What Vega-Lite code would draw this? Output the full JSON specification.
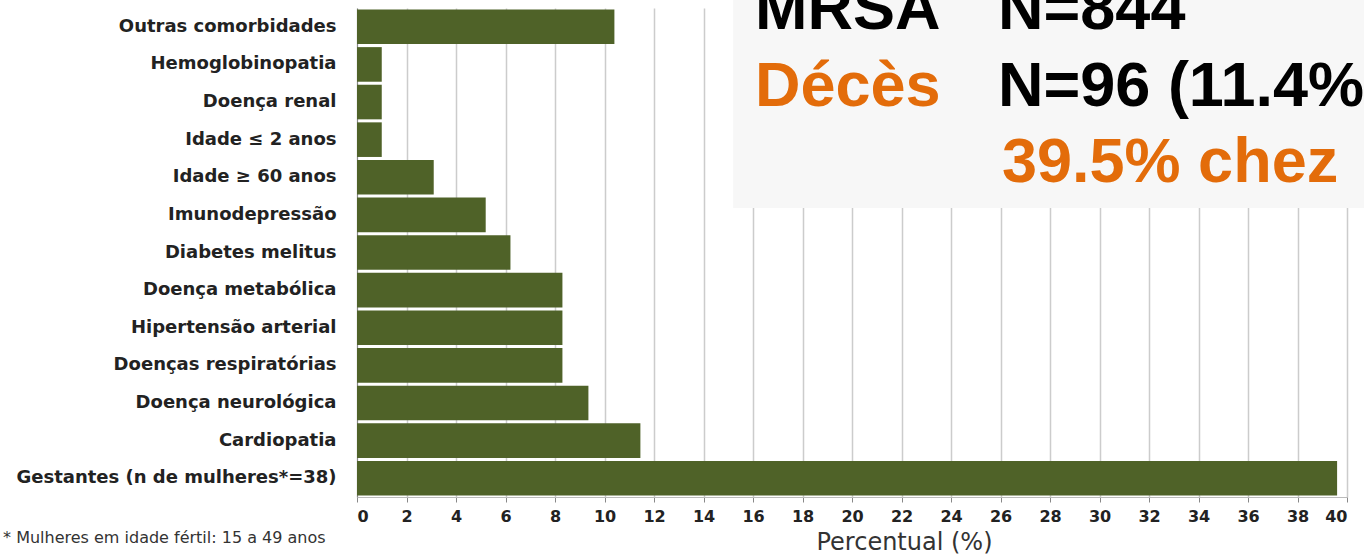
{
  "$schema": "https://vega.github.io/schema/vega-lite/v6.json",
  "width": 990,
  "height": 489,
  "autosize": {"type": "none"},
  "padding": {"left": 357, "top": 8, "right": 17, "bottom": 57},
  "background": "white",
  "config": {"view": {"stroke": null}},
  "datasets": {
    "bars": [
      {"category": "Outras comorbidades", "pct": 10.4},
      {"category": "Hemoglobinopatia", "pct": 1.0},
      {"category": "Doença renal", "pct": 1.0},
      {"category": "Idade ≤ 2 anos", "pct": 1.0},
      {"category": "Idade ≥ 60 anos", "pct": 3.1},
      {"category": "Imunodepressão", "pct": 5.2},
      {"category": "Diabetes melitus", "pct": 6.2},
      {"category": "Doença metabólica", "pct": 8.3},
      {"category": "Hipertensão arterial", "pct": 8.3},
      {"category": "Doenças respiratórias", "pct": 8.3},
      {"category": "Doença neurológica", "pct": 9.35},
      {"category": "Cardiopatia", "pct": 11.45},
      {"category": "Gestantes (n de mulheres*=38)", "pct": 39.6}
    ]
  },
  "layer": [
    {
      "data": {"name": "bars"},
      "mark": {"type": "bar", "color": "#4f6228"},
      "encoding": {
        "y": {
          "field": "category",
          "type": "nominal",
          "sort": null,
          "scale": {"paddingInner": 0.08, "paddingOuter": 0.04},
          "axis": {
            "title": null,
            "ticks": false,
            "domain": true,
            "domainColor": "#888888",
            "labelFont": "DejaVu Sans",
            "labelFontWeight": "bold",
            "labelFontSize": 18,
            "labelColor": "#222222",
            "labelPadding": 21,
            "labelLimit": 400
          }
        },
        "x": {
          "field": "pct",
          "type": "quantitative",
          "scale": {"domain": [0, 40], "nice": false},
          "axis": {
            "values": [0,2,4,6,8,10,12,14,16,18,20,22,24,26,28,30,32,34,36,38,40],
            "grid": true,
            "gridColor": "#cccccc",
            "gridWidth": 1.5,
            "domain": true,
            "domainColor": "#bbbbbb",
            "tickColor": "#888888",
            "tickSize": 5,
            "labelFont": "DejaVu Sans",
            "labelFontWeight": "bold",
            "labelFontSize": 16,
            "labelColor": "#222222",
            "labelPadding": 6,
            "title": "Percentual (%)",
            "titleFont": "DejaVu Sans",
            "titleFontWeight": "normal",
            "titleFontSize": 24,
            "titleColor": "#333333",
            "titleX": 547,
            "titleY": 52,
            "titleAlign": "center",
            "titleBaseline": "alphabetic"
          }
        }
      }
    },
    {
      "layer": [
        {
          "data": {"values": [{"k": 1}]},
          "mark": {"type": "rect", "color": "#f7f7f7"},
          "encoding": {
            "x": {"datum": 15.2, "type": "quantitative"},
            "x2": {"datum": 41},
            "y": {"datum": -0.3, "type": "quantitative", "scale": {"domain": [0, 13], "reverse": true, "nice": false, "zero": false}, "axis": null},
            "y2": {"datum": 5.32}
          }
        },
        {
          "data": {"values": [{"t": "MRSA"}]},
          "mark": {"type": "text", "align": "left", "baseline": "alphabetic", "font": "Liberation Sans", "fontWeight": "bold", "fontSize": 63, "color": "#000000"},
          "encoding": {
            "x": {"datum": 16.08, "type": "quantitative"},
            "y": {"datum": 0.56, "type": "quantitative"},
            "text": {"field": "t"}
          }
        },
        {
          "data": {"values": [{"t": "N=844"}]},
          "mark": {"type": "text", "align": "left", "baseline": "alphabetic", "font": "Liberation Sans", "fontWeight": "bold", "fontSize": 63, "color": "#000000"},
          "encoding": {
            "x": {"datum": 25.9, "type": "quantitative"},
            "y": {"datum": 0.56, "type": "quantitative"},
            "text": {"field": "t"}
          }
        },
        {
          "data": {"values": [{"t": "Décès"}]},
          "mark": {"type": "text", "align": "left", "baseline": "alphabetic", "font": "Liberation Sans", "fontWeight": "bold", "fontSize": 63, "color": "#e36c0a"},
          "encoding": {
            "x": {"datum": 16.08, "type": "quantitative"},
            "y": {"datum": 2.605, "type": "quantitative"},
            "text": {"field": "t"}
          }
        },
        {
          "data": {"values": [{"t": "N=96 (11.4%)"}]},
          "mark": {"type": "text", "align": "left", "baseline": "alphabetic", "font": "Liberation Sans", "fontWeight": "bold", "fontSize": 63, "color": "#000000"},
          "encoding": {
            "x": {"datum": 25.9, "type": "quantitative"},
            "y": {"datum": 2.605, "type": "quantitative"},
            "text": {"field": "t"}
          }
        },
        {
          "data": {"values": [{"t": "39.5% chez"}]},
          "mark": {"type": "text", "align": "left", "baseline": "alphabetic", "font": "Liberation Sans", "fontWeight": "bold", "fontSize": 63, "color": "#e36c0a"},
          "encoding": {
            "x": {"datum": 26.06, "type": "quantitative"},
            "y": {"datum": 4.63, "type": "quantitative"},
            "text": {"field": "t"}
          }
        },
        {
          "data": {"values": [{"t": "* Mulheres  em idade fértil: 15 a 49 anos"}]},
          "mark": {"type": "text", "align": "left", "baseline": "alphabetic", "font": "DejaVu Sans", "fontSize": 16, "color": "#333333"},
          "encoding": {
            "x": {"datum": -14.3, "type": "quantitative"},
            "y": {"datum": 14.22, "type": "quantitative"},
            "text": {"field": "t"}
          }
        }
      ]
    }
  ],
  "resolve": {"scale": {"y": "independent"}}
}
